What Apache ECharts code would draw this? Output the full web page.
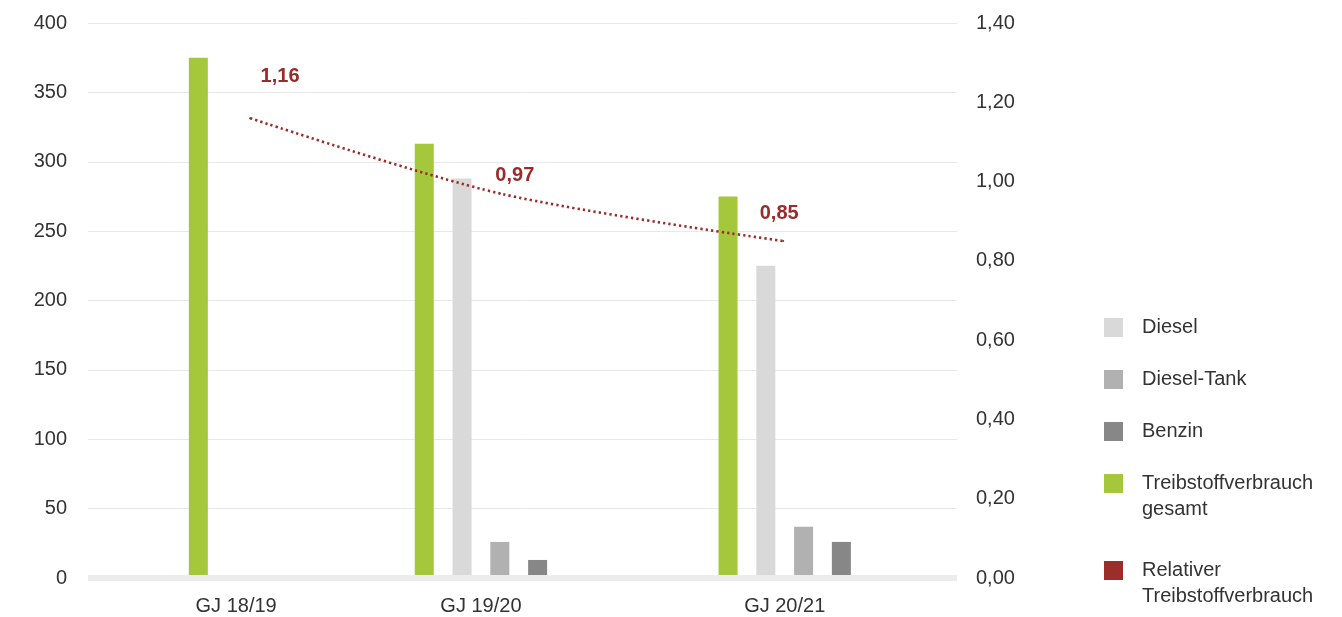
<!DOCTYPE html>
<html>
<head>
<meta charset="utf-8">
<script src="https://cdn.jsdelivr.net/npm/echarts@6/dist/echarts.min.js"></script>
<style>
  html, body { margin: 0; padding: 0; background: #fff; }
  #chart { width: 1342px; height: 617px; }
</style>
</head>
<body>
<div id="chart"></div>
<script>
// Werte
let years = ['GJ 18/19', 'GJ 19/20', 'GJ 20/21'];
let gesamt = [375, 313, 275];
let diesel = [null, 288, 225];
let dieselTank = [null, 26, 37];
let benzin = [null, 13, 26];
let relativ = [1.16, 0.97, 0.85];

// Lage auf der x-Achse, in Balkenabständen (0..23)
let groupCenter = [3.92, 10.4, 18.44];
let groupSize = [3, 4, 4];
let linePos = [4.29, 10.9, 18.4];
let labelOffset = [[30, -42], [15, -18], [-4, -28]];

let textColor = '#333';
let font = 'Liberation Sans, Arial, sans-serif';

function barData(values, slot) {
  let out = [];
  values.forEach((v, i) => {
    if (v == null) return;
    out.push([groupCenter[i] + slot - (groupSize[i] - 1) / 2, v]);
  });
  return out;
}

function hiddenX() {
  return { type: 'value', min: 0, max: 23, show: false, gridIndex: 0 };
}

function comma(v) {
  return v.toFixed(2).replace('.', ',');
}

let chart = echarts.init(document.getElementById('chart'));

let option = {
  animation: false,
  textStyle: { fontFamily: font },
  grid: { left: 88, right: 385, top: 23, bottom: 39, outerBoundsMode: 'none' },
  legend: [
    {
      orient: 'vertical', left: 1104, top: 314.5, padding: 0,
      icon: 'rect', itemWidth: 19, itemHeight: 19, itemGap: 26,
      selectedMode: false,
      textStyle: { fontSize: 20, lineHeight: 26, color: textColor, padding: [0, 0, 0, 14] },
      data: ['Diesel', 'Diesel-Tank', 'Benzin']
    },
    {
      // leere erste Zeile, damit die erste Textzeile neben dem Kästchen steht
      orient: 'vertical', left: 1104, top: 444.5, padding: 0,
      icon: 'rect', itemWidth: 19, itemHeight: 19, itemGap: 9,
      selectedMode: false,
      textStyle: { fontSize: 20, lineHeight: 26, color: textColor, padding: [0, 0, 0, 14] },
      formatter: name => ' \n' + name.replace(' ', '\n'),
      data: ['Treibstoffverbrauch gesamt', 'Relativer Treibstoffverbrauch']
    }
  ],
  xAxis: [
    {
      type: 'value', min: 0, max: 23, z: 10,
      axisLine: { show: true, lineStyle: { color: '#ececec', width: 6, cap: 'butt' } },
      axisTick: { show: false },
      splitLine: { show: false },
      axisLabel: {
        customValues: groupCenter,
        formatter: v => years[groupCenter.indexOf(v)],
        fontSize: 20, color: textColor, margin: 18
      }
    },
    hiddenX(), hiddenX(), hiddenX()
  ],
  yAxis: [
    {
      type: 'value', min: 0, max: 400, interval: 50,
      axisLine: { show: false }, axisTick: { show: false },
      axisLabel: { fontSize: 20, color: textColor, margin: 21 },
      splitLine: { lineStyle: { color: '#e8e8e8', width: 1 } }
    },
    {
      type: 'value', min: 0, max: 1.4, interval: 0.2, position: 'right',
      axisLine: { show: false }, axisTick: { show: false },
      axisLabel: { fontSize: 20, color: textColor, margin: 19, formatter: comma },
      splitLine: { show: false }
    }
  ],
  series: [
    {
      name: 'Treibstoffverbrauch gesamt', type: 'bar', xAxisIndex: 0, barWidth: 19,
      itemStyle: { color: '#a5c73b' }, data: barData(gesamt, 0)
    },
    {
      name: 'Diesel', type: 'bar', xAxisIndex: 1, barWidth: 19,
      itemStyle: { color: '#d9d9d9' }, data: barData(diesel, 1)
    },
    {
      name: 'Diesel-Tank', type: 'bar', xAxisIndex: 2, barWidth: 19,
      itemStyle: { color: '#b1b1b1' }, data: barData(dieselTank, 2)
    },
    {
      name: 'Benzin', type: 'bar', xAxisIndex: 3, barWidth: 19,
      itemStyle: { color: '#878787' }, data: barData(benzin, 3)
    },
    {
      name: 'Relativer Treibstoffverbrauch', type: 'line', xAxisIndex: 0, yAxisIndex: 1,
      smooth: 0.3, symbol: 'circle', symbolSize: 2, z: 5,
      itemStyle: { color: '#9b2d2a' },
      lineStyle: { color: '#9b2d2a', width: 2.6, type: [2.3, 3.1] },
      label: {
        show: true, position: 'inside', color: '#9b2a2a',
        fontSize: 20, fontWeight: 'bold',
        formatter: p => comma(p.value[1])
      },
      data: relativ.map((v, i) => ({ value: [linePos[i], v], label: { offset: labelOffset[i] } }))
    }
  ]
};

chart.setOption(option);
</script>
</body>
</html>
